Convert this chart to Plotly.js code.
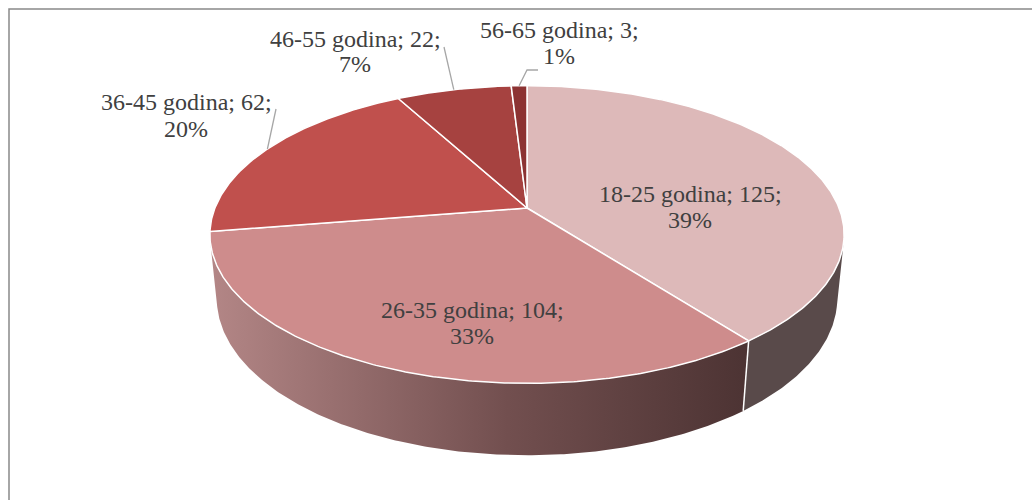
<!DOCTYPE html>
<html>
<head>
<meta charset="utf-8">
<script src="https://cdn.plot.ly/plotly-3.0.1.min.js"></script>
<style>html,body{margin:0;padding:0;background:#fff;}#chart{width:1032px;height:500px;}</style>
</head>
<body>
<div id="chart"></div>
<script>
// ---- data ----
const categories = ['18-25 godina', '26-35 godina', '36-45 godina', '46-55 godina', '56-65 godina'];
const values = [125, 104, 62, 22, 3];
const percentLabels = ['39%', '33%', '20%', '7%', '1%'];
const topColors = ['#ddb9b9', '#ce8c8c', '#c0504d', '#a64240', '#8c3333'];
const wallColors = ['#594a4a', '#7a5656', '#8a3a38', '#7a302f', '#662626'];

// ---- 3D projection parameters (perspective view of a tilted disc) ----
const cosA = 0.887, sinA = Math.sqrt(1 - 0.887 * 0.887);
const L = 4.983, F = 1555, CX = 527, CY = 208, H = 0.233;
function proj(phiDeg, z) {
  const p = phiDeg * Math.PI / 180;
  const X = Math.sin(p), Y = -Math.cos(p);
  const w = L - (Y * cosA + z * sinA);
  const v = -Y * sinA + z * cosA;
  return [CX + F * X / w, CY - F * v / w];
}
function arc(a, b, z) {
  const pts = [];
  const n = Math.max(2, Math.ceil(Math.abs(b - a) * 2));
  for (let i = 0; i <= n; i++) pts.push(proj(a + (b - a) * i / n, z));
  return pts;
}
const total = values.reduce((s, v) => s + v, 0);
const starts = [], ends = [];
let acc = 0;
values.forEach(v => { starts.push(acc / total * 360); acc += v; ends.push(acc / total * 360); });

// visible range of outer wall
const t = 1 / (L * cosA);
const vis0 = Math.acos(-t) * 180 / Math.PI, vis1 = 360 - vis0;

const traces = [];
// walls
values.forEach((v, i) => {
  const a = Math.max(starts[i], vis0), b = Math.min(ends[i], vis1);
  if (b <= a) return;
  const pts = arc(a, b, 0).concat(arc(b, a, -H));
  pts.push(pts[0]);
  const tr = {
    x: pts.map(p => p[0]), y: pts.map(p => p[1]),
    mode: 'lines', fill: 'toself', fillcolor: wallColors[i],
    line: {width: 0, color: wallColors[i]}, hoverinfo: 'skip', showlegend: false
  };
  if (i === 1) {
    tr.fillgradient = {type: 'horizontal', start: 212, stop: 750,
      colorscale: [[0, '#b38686'], [0.55, '#724f4f'], [1, '#4c3333']]};
  }
  traces.push(tr);
});
// wall separators
ends.forEach(e => {
  if (e > vis0 && e < vis1) {
    const p0 = proj(e, 0), p1 = proj(e, -H);
    traces.push({x: [p0[0], p1[0]], y: [p0[1], p1[1]], mode: 'lines',
      line: {color: '#ffffff', width: 1.5}, hoverinfo: 'skip', showlegend: false});
  }
});
// top faces
values.forEach((v, i) => {
  const c = [CX, CY];
  const pts = [c].concat(arc(starts[i], ends[i], 0)).concat([c]);
  traces.push({
    x: pts.map(p => p[0]), y: pts.map(p => p[1]),
    mode: 'lines', fill: 'toself', fillcolor: topColors[i],
    line: {width: 1.5, color: '#ffffff'}, hoverinfo: 'skip', showlegend: false
  });
});

// label placement (baseline positions of the two text lines)
const labelPos = [
  {x: 690, b1: 202, b2: 228},
  {x: 472, b1: 318, b2: 344},
  {x: 186, b1: 110, b2: 137},
  {x: 355, b1: 47, b2: 72},
  {x: 559, b1: 38, b2: 64}
];
// leader lines for outside labels: [slice index, path end points]
const leaders = [
  {i: 2, pts: [[276, 109]]},
  {i: 3, pts: [[444, 47]]},
  {i: 4, pts: [[527, 70], [538, 70]]}
];
leaders.forEach(ld => {
  const mid = (starts[ld.i] + ends[ld.i]) / 2;
  const p0 = proj(mid, 0);
  const pts = [p0].concat(ld.pts);
  traces.push({x: pts.map(p => p[0]), y: pts.map(p => p[1]), mode: 'lines',
    line: {color: '#a6a6a6', width: 1.3}, hoverinfo: 'skip', showlegend: false});
});

const font = {family: 'Liberation Serif, Times New Roman, serif', size: 24, color: '#404040'};
const annotations = [];
categories.forEach((c, i) => {
  const lp = labelPos[i];
  annotations.push({x: lp.x, y: lp.b1 - 8, xref: 'x', yref: 'y', text: c + '; ' + values[i] + ';',
    showarrow: false, font: font, xanchor: 'center', yanchor: 'middle'});
  annotations.push({x: lp.x, y: lp.b2 - 8, xref: 'x', yref: 'y', text: percentLabels[i],
    showarrow: false, font: font, xanchor: 'center', yanchor: 'middle'});
});

const layout = {
  width: 1032, height: 500,
  margin: {l: 0, r: 0, t: 0, b: 0, pad: 0},
  paper_bgcolor: '#ffffff', plot_bgcolor: '#ffffff',
  xaxis: {range: [0, 1032], autorange: false, visible: false, fixedrange: true},
  yaxis: {range: [500, 0], autorange: false, visible: false, fixedrange: true},
  showlegend: false,
  shapes: [{type: 'rect', xref: 'x', yref: 'y', x0: 9, y0: 9, x1: 1045, y1: 520,
    line: {color: '#898989', width: 1.5}, fillcolor: 'rgba(0,0,0,0)', layer: 'below'}],
  annotations: annotations
};
Plotly.newPlot('chart', traces, layout, {staticPlot: true, displayModeBar: false});
</script>
</body>
</html>
